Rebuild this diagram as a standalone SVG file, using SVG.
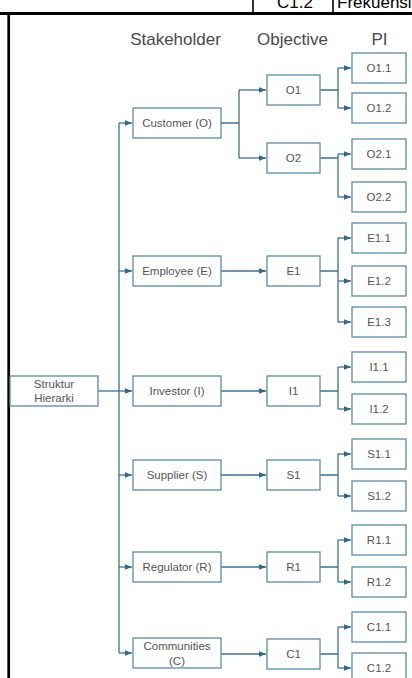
<svg xmlns="http://www.w3.org/2000/svg" width="412" height="678" viewBox="0 0 412 678">
<defs>
<marker id="ah" markerUnits="userSpaceOnUse" markerWidth="8" markerHeight="6" refX="7" refY="3" orient="auto">
<path d="M0,0.3 L7,3 L0,5.7 z" fill="#31678a"/>
</marker>
</defs>
<style>
.box{fill:#fff;stroke:#5b8ba6;stroke-width:1.3}
.t{font-family:"Liberation Sans",Arial,sans-serif;font-size:11.5px;fill:#555;text-anchor:middle;dominant-baseline:central}
.h{font-family:"Liberation Sans",Arial,sans-serif;font-size:17px;fill:#4a4a4a;text-anchor:middle}
.c{fill:none;stroke:#3f7290;stroke-width:1.3}
.a{fill:none;stroke:#3f7290;stroke-width:1.3;marker-end:url(#ah)}
.tb{font-family:"Liberation Sans",Arial,sans-serif;font-size:17px;fill:#000}
</style>
<rect width="412" height="678" fill="#fff"/>
<g id="table-fragment">
<line x1="253" y1="0" x2="253" y2="13" stroke="#000" stroke-width="1.6"/>
<line x1="333" y1="0" x2="333" y2="13" stroke="#000" stroke-width="1.6"/>
<text class="tb" x="295" y="8" text-anchor="middle">C1.2</text>
<text class="tb" x="337" y="8">Frekuensi</text>
<line x1="0" y1="13.5" x2="412" y2="13.5" stroke="#000" stroke-width="3"/>
<line x1="8.7" y1="12" x2="8.7" y2="678" stroke="#000" stroke-width="2.7"/>
</g>
<g id="headers">
<text class="h" x="175.5" y="45">Stakeholder</text>
<text class="h" x="292.5" y="45">Objective</text>
<text class="h" x="379.5" y="45">PI</text>
</g>
<g id="connectors">
<path class="c" d="M98,391 H119"/>
<path class="c" d="M119,123 V653"/>
<path class="a" d="M119,123 H132"/>
<path class="a" d="M119,271 H132"/>
<path class="a" d="M119,391 H132"/>
<path class="a" d="M119,475 H132"/>
<path class="a" d="M119,567 H132"/>
<path class="a" d="M119,653 H132"/>
<path class="c" d="M221,123 H239 M239,90 V158"/>
<path class="a" d="M239,90 H266"/>
<path class="a" d="M239,158 H266"/>
<path class="a" d="M221,271 H266"/>
<path class="a" d="M221,391 H266"/>
<path class="a" d="M221,475 H266"/>
<path class="a" d="M221,567 H266"/>
<path class="a" d="M221,654 H266"/>
<path class="c" d="M320,90 H338 M338,68 V108"/>
<path class="a" d="M338,68 H351"/>
<path class="a" d="M338,108 H351"/>
<path class="c" d="M320,158 H338 M338,154 V197"/>
<path class="a" d="M338,154 H351"/>
<path class="a" d="M338,197 H351"/>
<path class="c" d="M320,271 H338 M338,238 V322"/>
<path class="a" d="M338,238 H351"/>
<path class="a" d="M338,281 H351"/>
<path class="a" d="M338,322 H351"/>
<path class="c" d="M320,391 H338 M338,367 V409"/>
<path class="a" d="M338,367 H351"/>
<path class="a" d="M338,409 H351"/>
<path class="c" d="M320,475 H338 M338,454 V496"/>
<path class="a" d="M338,454 H351"/>
<path class="a" d="M338,496 H351"/>
<path class="c" d="M320,567 H338 M338,540 V582"/>
<path class="a" d="M338,540 H351"/>
<path class="a" d="M338,582 H351"/>
<path class="c" d="M320,654 H338 M338,627 V668"/>
<path class="a" d="M338,627 H351"/>
<path class="a" d="M338,668 H351"/>
</g>
<g id="root"><rect class="box" x="10" y="376" width="88" height="30"/><text class="t" x="54" y="384">Struktur</text><text class="t" x="54" y="398">Hierarki</text></g>
<g id="customer"><rect class="box" x="133" y="108" width="88" height="30"/><text class="t" x="177" y="123">Customer (O)</text></g>
<g id="employee"><rect class="box" x="133" y="256" width="88" height="30"/><text class="t" x="177" y="271">Employee (E)</text></g>
<g id="investor"><rect class="box" x="133" y="376" width="88" height="30"/><text class="t" x="177" y="391">Investor (I)</text></g>
<g id="supplier"><rect class="box" x="133" y="460" width="88" height="30"/><text class="t" x="177" y="475">Supplier (S)</text></g>
<g id="regulator"><rect class="box" x="133" y="552" width="88" height="30"/><text class="t" x="177" y="567">Regulator (R)</text></g>
<g id="communities"><rect class="box" x="133" y="638" width="88" height="30"/><text class="t" x="177" y="646">Communities</text><text class="t" x="177" y="661">(C)</text></g>
<g id="O1"><rect class="box" x="267" y="75" width="53" height="30"/><text class="t" x="293.5" y="90">O1</text></g>
<g id="O2"><rect class="box" x="267" y="143" width="53" height="30"/><text class="t" x="293.5" y="158">O2</text></g>
<g id="E1"><rect class="box" x="267" y="256" width="53" height="30"/><text class="t" x="293.5" y="271">E1</text></g>
<g id="I1"><rect class="box" x="267" y="376" width="53" height="30"/><text class="t" x="293.5" y="391">I1</text></g>
<g id="S1"><rect class="box" x="267" y="460" width="53" height="30"/><text class="t" x="293.5" y="475">S1</text></g>
<g id="R1"><rect class="box" x="267" y="552" width="53" height="30"/><text class="t" x="293.5" y="567">R1</text></g>
<g id="C1"><rect class="box" x="267" y="639" width="53" height="30"/><text class="t" x="293.5" y="654">C1</text></g>
<g id="O1.1"><rect class="box" x="352" y="53" width="54" height="30"/><text class="t" x="379" y="68">O1.1</text></g>
<g id="O1.2"><rect class="box" x="352" y="93" width="54" height="30"/><text class="t" x="379" y="108">O1.2</text></g>
<g id="O2.1"><rect class="box" x="352" y="139" width="54" height="30"/><text class="t" x="379" y="154">O2.1</text></g>
<g id="O2.2"><rect class="box" x="352" y="182" width="54" height="30"/><text class="t" x="379" y="197">O2.2</text></g>
<g id="E1.1"><rect class="box" x="352" y="223" width="54" height="30"/><text class="t" x="379" y="238">E1.1</text></g>
<g id="E1.2"><rect class="box" x="352" y="266" width="54" height="30"/><text class="t" x="379" y="281">E1.2</text></g>
<g id="E1.3"><rect class="box" x="352" y="307" width="54" height="30"/><text class="t" x="379" y="322">E1.3</text></g>
<g id="I1.1"><rect class="box" x="352" y="352" width="54" height="30"/><text class="t" x="379" y="367">I1.1</text></g>
<g id="I1.2"><rect class="box" x="352" y="394" width="54" height="30"/><text class="t" x="379" y="409">I1.2</text></g>
<g id="S1.1"><rect class="box" x="352" y="439" width="54" height="30"/><text class="t" x="379" y="454">S1.1</text></g>
<g id="S1.2"><rect class="box" x="352" y="481" width="54" height="30"/><text class="t" x="379" y="496">S1.2</text></g>
<g id="R1.1"><rect class="box" x="352" y="525" width="54" height="30"/><text class="t" x="379" y="540">R1.1</text></g>
<g id="R1.2"><rect class="box" x="352" y="567" width="54" height="30"/><text class="t" x="379" y="582">R1.2</text></g>
<g id="C1.1"><rect class="box" x="352" y="612" width="54" height="30"/><text class="t" x="379" y="627">C1.1</text></g>
<g id="C1.2"><rect class="box" x="352" y="653" width="54" height="30"/><text class="t" x="379" y="668">C1.2</text></g>
</svg>
